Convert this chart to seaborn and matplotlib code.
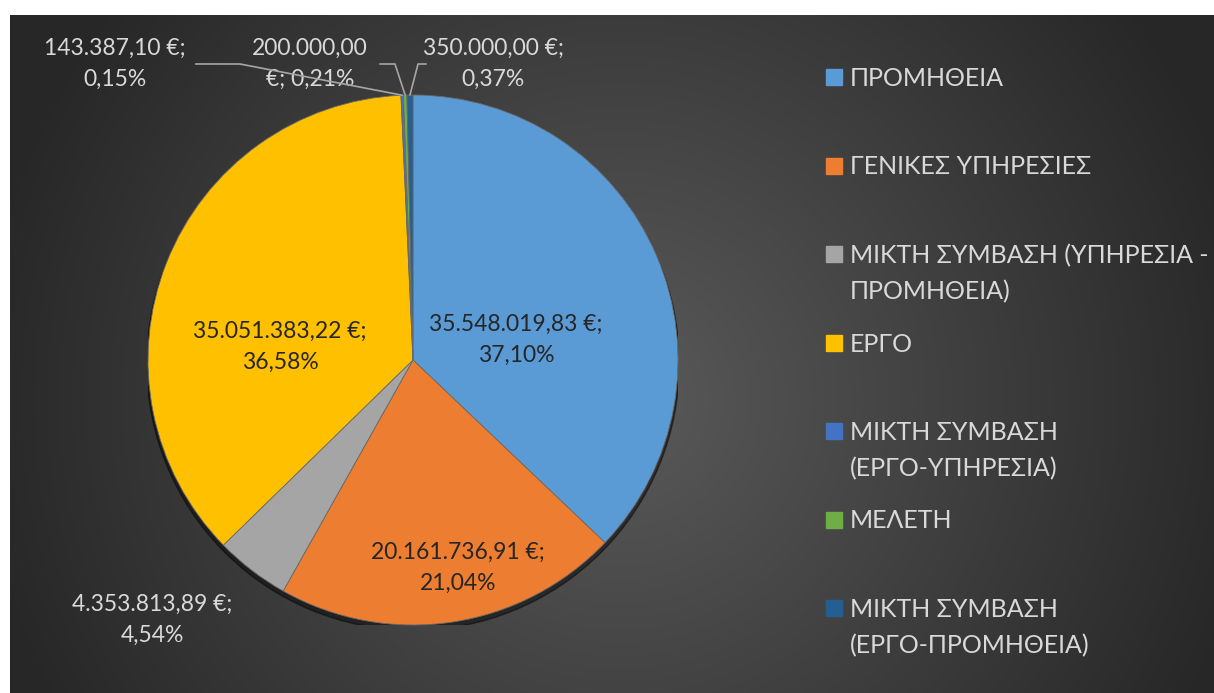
import numpy as np
import matplotlib
matplotlib.use("Agg")
import matplotlib.pyplot as plt
import seaborn as sns
from matplotlib.patches import Circle, Rectangle

# Data
categories = [
    "ΠΡΟΜΗΘΕΙΑ",
    "ΓΕΝΙΚΕΣ ΥΠΗΡΕΣΙΕΣ",
    "ΜΙΚΤΗ ΣΥΜΒΑΣΗ (ΥΠΗΡΕΣΙΑ -\nΠΡΟΜΗΘΕΙΑ)",
    "ΕΡΓΟ",
    "ΜΙΚΤΗ ΣΥΜΒΑΣΗ\n(ΕΡΓΟ-ΥΠΗΡΕΣΙΑ)",
    "ΜΕΛΕΤΗ",
    "ΜΙΚΤΗ ΣΥΜΒΑΣΗ\n(ΕΡΓΟ-ΠΡΟΜΗΘΕΙΑ)",
]
values = [35548019.83, 20161736.91, 4353813.89, 35051383.22, 143387.10, 200000.00, 350000.00]
percents = [37.10, 21.04, 4.54, 36.58, 0.15, 0.21, 0.37]
colors = ["#5b9bd5", "#ed7d31", "#a5a5a5", "#ffc000", "#4472c4", "#70ad47", "#255e91"]


def euro(v):
    s = f"{v:,.2f}".replace(",", "X").replace(".", ",").replace("X", ".")
    return s + " €"


def pct(p):
    return f"{p:.2f}".replace(".", ",") + "%"


# Settings
sns.set_theme(style="white")
plt.rcParams["font.family"] = ["Lato", "Noto Sans", "DejaVu Sans"]

W, H = 1214, 693
fig = plt.figure(figsize=(W / 100, H / 100), dpi=100, facecolor="white")

# dark radial background
bg = fig.add_axes([10 / W, 0, 1 - 10 / W, (H - 15) / H])
gx, gy = np.meshgrid(np.arange(10, W), np.arange(15, H))
d = np.sqrt((gx - 620) ** 2 + (gy - 400) ** 2) / 650
d = np.clip(d, 0, 1)
shade = 0x5a - (0x5a - 0x27) * d
img = np.dstack([shade, shade, shade]) / 255
bg.imshow(img, aspect="auto", extent=(10, W, H, 15))
bg.set_axis_off()

# pie
cx, cy, r = 413, 360, 265
ax = fig.add_axes([(cx - r) / W, (H - cy - r) / H, 2 * r / W, 2 * r / H])
ax.add_patch(Circle((0, -0.015), 1.005, color="black", alpha=0.45, zorder=0))
wedges, _ = ax.pie(values, colors=colors, startangle=90, counterclock=False,
                   radius=1, wedgeprops=dict(edgecolor="#6a6a6a", linewidth=0.6))
ax.set_xlim(-1, 1)
ax.set_ylim(-1, 1)
ax.set_aspect("equal")
ax.set_axis_off()

# label positions (data units)
label_pos = [(0.389, 0.075), (0.170, -0.785), (-0.985, -0.981), (-0.502, 0.049),
             (-1.125, 1.117), (-0.389, 1.117), (0.302, 1.117)]
inside = [True, True, False, True, False, False, False]
for i, (x, y) in enumerate(label_pos):
    if i == 5:
        txt = "200.000,00\n€; " + pct(percents[i])
    else:
        txt = euro(values[i]) + ";\n" + pct(percents[i])
    ax.text(x, y, txt, ha="center", va="center", fontsize=16.5, linespacing=1.6,
            color="#262626" if inside[i] else "#d9d9d9", clip_on=False)

# leader lines for small slices
for i, xs in [(4, (-0.820, -0.653)), (5, (-0.125, -0.068)), (6, (0.050, 0.019))]:
    w = wedges[i]
    ang = np.deg2rad((w.theta1 + w.theta2) / 2)
    ex, ey = np.cos(ang), np.sin(ang)
    ax.plot([xs[0], xs[1], ex], [1.117, 1.117, ey], color="#a6a6a6",
            linewidth=1.2, clip_on=False, zorder=3)

# legend (entries top-aligned, one text per line)
for i, lab in enumerate(categories):
    yc = 77 + 88.5 * i
    fig.patches.append(Rectangle((826 / W, 1 - (yc + 8) / H), 16 / W, 16 / H,
                                 transform=fig.transFigure, color=colors[i]))
    for j, line in enumerate(lab.split("\n")):
        fig.text(850 / W, 1 - (yc + 9 + 36 * j) / H, line, ha="left", va="baseline",
                 fontsize=18, color="#d9d9d9")

fig.savefig("out.png", dpi=100, facecolor="white")
